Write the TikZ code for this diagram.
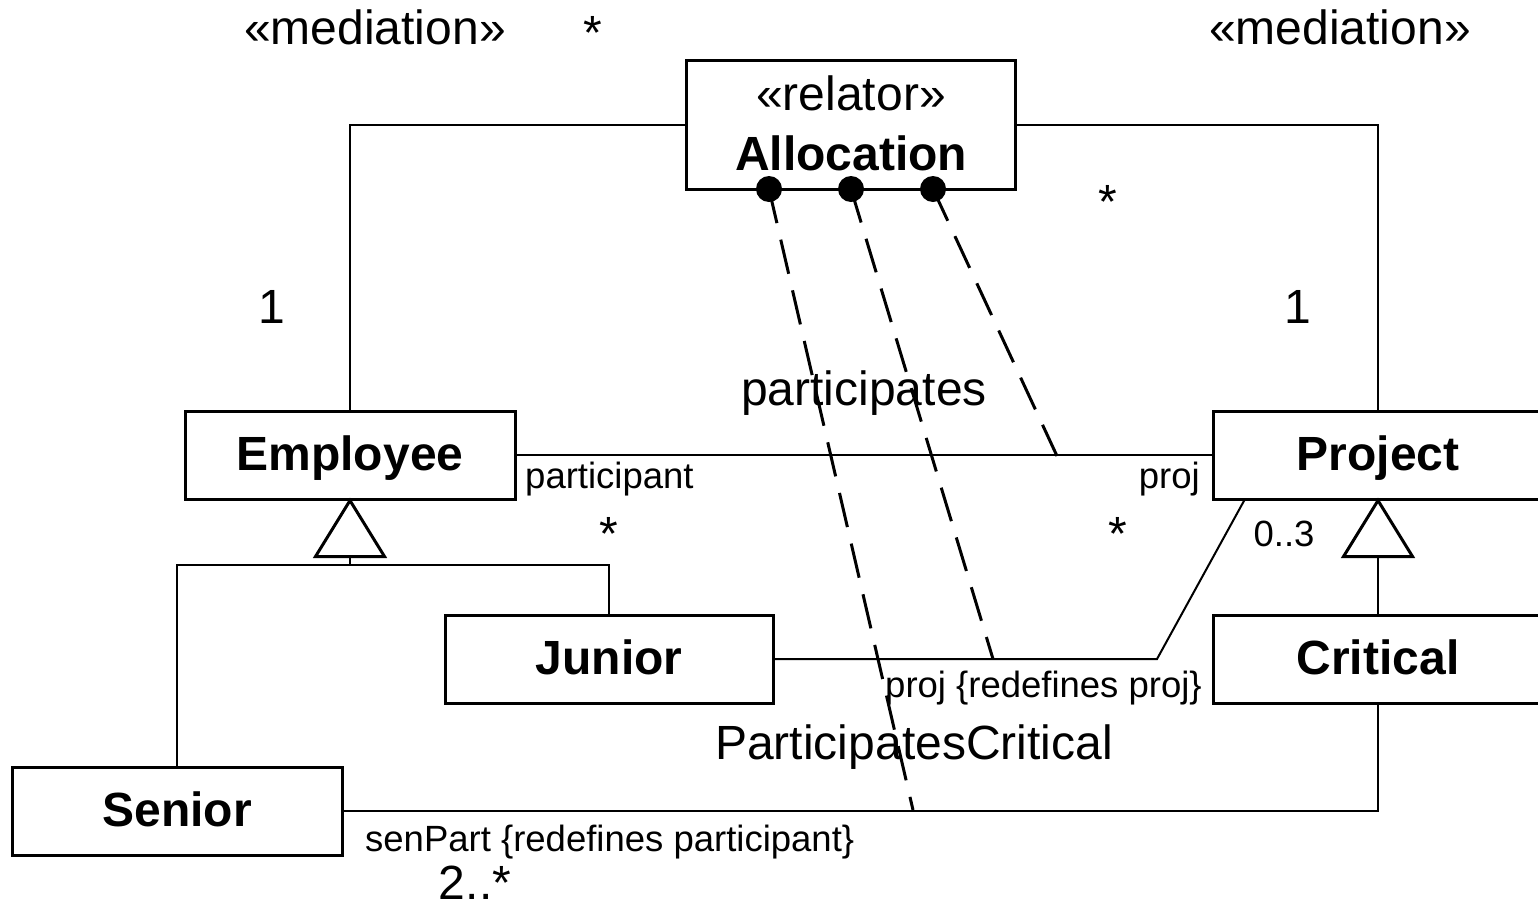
\documentclass[tikz,border=0pt]{standalone}
\usepackage{fontspec}
\setmainfont{Liberation Sans}
\newcommand\largetxt{\fontsize{48}{56}\selectfont}
\newcommand\smalltxt{\fontsize{36.5}{44}\selectfont}
\begin{document}
\begin{tikzpicture}[x=1pt,y=-1pt,
  cls/.style={draw,line width=3pt,inner sep=0pt,minimum width=330pt,minimum height=88pt,
    font=\largetxt\bfseries,text height=30pt,text depth=0pt},
  assoc/.style={line width=2pt},
  gen/.style={line width=3pt,fill=white,line join=miter},
  derive/.style={line width=3pt,dash pattern=on 35pt off 17pt},
  biglbl/.style={font=\largetxt,inner sep=0pt,anchor=base},
  smalllbl/.style={font=\smalltxt,inner sep=0pt,anchor=base}]
\useasboundingbox (0,0) rectangle (1538,911);

% classes
\node[cls,minimum width=329pt,minimum height=129pt] (alloc) at (850.5,124.5) {};
\node[biglbl] (allocStereo) at (851,110) {«relator»};
\node[biglbl,font=\largetxt\bfseries] (allocName) at (851,170) {Allocation};
\node[cls] (employee) at (350,455) {Employee};
\node[cls] (project) at (1378,455) {Project};
\node[cls,minimum width=328pt] (junior) at (609,659) {Junior};
\node[cls] (critical) at (1378,659) {Critical};
\node[cls] (senior) at (177,811) {Senior};

% mediations
\draw[assoc] (alloc.west) -| (employee.north);
\draw[assoc] (alloc.east) -| (project.north);

% material relations
\draw[assoc] (employee.east) -- (project.west);
\coordinate (juniorBend) at (1157,659);
\coordinate (projLeg) at (1245,499);
\draw[assoc] (junior.east) -- (juniorBend) -- (projLeg);
\draw[assoc] (senior.east) -| (critical.south);

% generalizations
\coordinate (empFork) at (350,565);
\draw[assoc] (senior.north) |- (empFork) -| (junior.north);
\draw[assoc] (350,555) -- (empFork);
\draw[gen] (employee.south) -- ++(34.5,56) -- ++(-69,0) -- cycle;
\draw[assoc] (1378,555) -- (critical.north);
\draw[gen] (project.south) -- ++(34.5,56) -- ++(-69,0) -- cycle;

% derivations from the relator
\coordinate (d1) at (769,189);
\coordinate (d2) at (851,189);
\coordinate (d3) at (933,189);
\coordinate (t1) at (913,810);
\coordinate (t2) at (993,659);
\coordinate (t3) at (1057,456);
\draw[derive] (d1) -- (t1);
\draw[derive] (d2) -- (t2);
\draw[derive] (d3) -- (t3);
\fill (d1) circle (13);
\fill (d2) circle (13);
\fill (d3) circle (13);

% labels
\node[biglbl] (medLeft) at (375,44) {«mediation»};
\node[biglbl] (medRight) at (1340,44) {«mediation»};
\node[biglbl] (multA) at (593,49) {*};
\node[biglbl] (multB) at (1108,218) {*};
\node[biglbl] (multC) at (272,323) {1};
\node[biglbl] (multD) at (1298,323) {1};
\node[biglbl] (relName) at (864,405) {participates};
\node[smalllbl,anchor=base west] (roleA) at (525,488) {participant};
\node[smalllbl,anchor=base east] (roleB) at (1200,488) {proj};
\node[biglbl] (multE) at (609,550) {*};
\node[biglbl] (multF) at (1118,550) {*};
\node[smalllbl] (multG) at (1284,546) {0..3};
\node[smalllbl,anchor=base west] (roleC) at (885,697) {proj \{redefines proj\}};
\node[biglbl] (relName2) at (914,759) {ParticipatesCritical};
\node[smalllbl,anchor=base west] (roleD) at (365,851) {senPart \{redefines participant\}};
\node[biglbl] (multH) at (475,899) {2..*};
\end{tikzpicture}
\end{document}
